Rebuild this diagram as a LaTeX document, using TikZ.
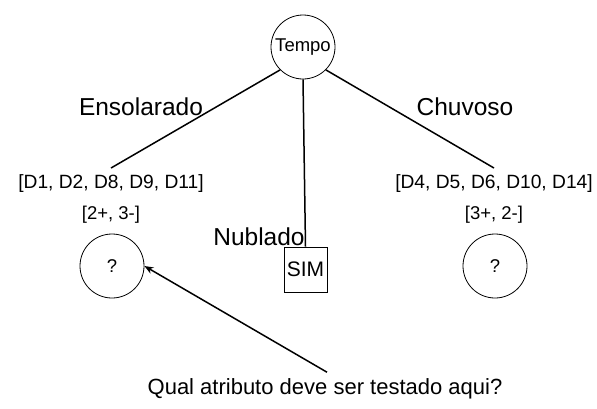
\documentclass[tikz,border=0pt]{standalone}
\usepackage{fontspec}
\setmainfont{Liberation Sans}
\usetikzlibrary{arrows.meta,positioning}
\tikzset{
  attrnode/.style={circle, draw, line width=0.8pt, minimum size=64pt, inner sep=0pt, font=\fontsize{18.5}{22}\selectfont},
  leafnode/.style={rectangle, draw, line width=0.8pt, minimum width=43pt, minimum height=45pt, inner sep=1pt, font=\fontsize{21}{25}\selectfont},
  branchlabel/.style={font=\fontsize{24.5}{29}\selectfont},
  setlabel/.style={font=\fontsize{19.2}{23}\selectfont},
  countlabel/.style={font=\fontsize{18.5}{22}\selectfont},
  edge/.style={line width=1.5pt},
}
\begin{document}
\begin{tikzpicture}[x=1pt, y=-1pt]
    \useasboundingbox (0,0) rectangle (597,408);

    % Root
    \node[attrnode] (tempo) at (303,47) {Tempo};

    % Sunny branch
    \node[setlabel] (sunset) at (111,184) {[D1, D2, D8, D9, D11]};
    \node[countlabel] (suncount) at (111,215) {[2+, 3-]};
    \node[attrnode] (sunq) at (112,266) {?};

    % Cloudy branch
    \node[leafnode] (cloudyleaf) at (305.5,269.5) {SIM};

    % Rainy branch
    \node[setlabel] (rainset) at (494,184) {[D4, D5, D6, D10, D14]};
    \node[countlabel] (raincount) at (494,215) {[3+, 2-]};
    \node[attrnode] (rainq) at (495,266) {?};

    % Branches
    \draw[edge] (tempo.south west) -- ([yshift=3.5pt]sunset.north);
    \draw[edge] (tempo.south) -- (cloudyleaf.north);
    \draw[edge] (tempo.south east) -- ([yshift=3.5pt]rainset.north);

    % Branch labels
    \node[branchlabel] (sunlabel) at (141,107) {Ensolarado};
    \node[branchlabel] (cloudylabel) at (259,237) {Nublado};
    \node[branchlabel] (rainlabel) at (465,107) {Chuvoso};

    % Question
    \node[font=\fontsize{22}{26}\selectfont] (ask) at (325,389) {Qual atributo deve ser testado aqui?};
    \draw[edge, -{Stealth[length=9pt, width=7pt]}] ([xshift=2pt, yshift=3pt]ask.north) -- (sunq.east);
\end{tikzpicture}
\end{document}
